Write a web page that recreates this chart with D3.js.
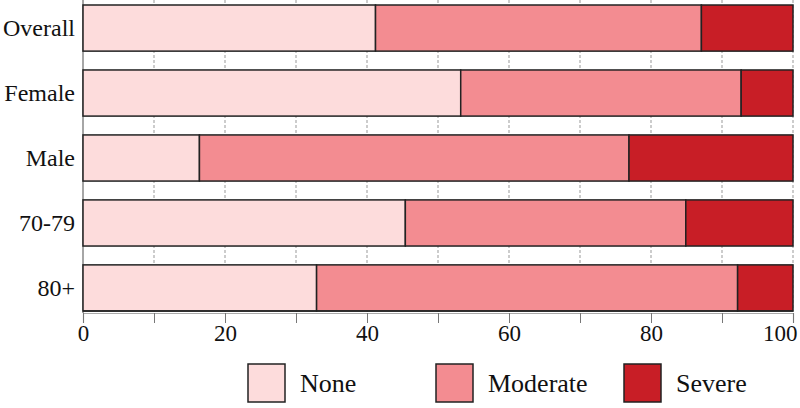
<!DOCTYPE html>
<html><head><meta charset="utf-8">
<script src="https://cdn.jsdelivr.net/npm/d3@7"></script>
<style>body{margin:0;background:#fff}svg{display:block}text{font-family:"Liberation Serif","Times New Roman",serif;fill:#111}</style>
</head><body><svg id="c" width="800" height="408"></svg>
<script>
const categories = ["Overall", "Female", "Male", "70-79", "80+"];
const seriesNames = ["None", "Moderate", "Severe"];
const noneVals = [41.2, 53.2, 16.4, 45.4, 32.9];
const moderateVals = [45.9, 39.5, 60.5, 39.5, 59.3];
const severeVals = [12.9, 7.3, 23.1, 15.1, 7.8];
const tickLabels = [0, 20, 40, 60, 80, 100];
const colors = ["#fddcdc", "#f38c91", "#c81e26"];

const svg = d3.select("#c");
const x = d3.scaleLinear().domain([0, 100]).range([83, 793]);
const y = d3.scaleBand().domain(categories).range([5, 311]).paddingInner(0.29).paddingOuter(0);

const rows = categories.map((c, i) => ({cat: c, None: noneVals[i], Moderate: moderateVals[i], Severe: severeVals[i]}));
const stacked = d3.stack().keys(seriesNames)(rows);

// gridlines
svg.append("g").selectAll("line").data(d3.range(10, 101, 10)).join("line")
  .attr("x1", d => x(d)).attr("x2", d => x(d)).attr("y1", 0).attr("y2", 312)
  .attr("stroke", "#999").attr("stroke-width", 1).attr("stroke-dasharray", "3,2");

// left axis line
svg.append("line").attr("x1", x(0)).attr("x2", x(0)).attr("y1", 0).attr("y2", 313)
  .attr("stroke", "#888").attr("stroke-width", 1.5);

// bars
stacked.forEach((s, si) => {
  svg.append("g").selectAll("rect").data(s).join("rect")
    .attr("x", d => x(d[0])).attr("width", d => x(d[1]) - x(d[0]))
    .attr("y", d => y(d.data.cat)).attr("height", y.bandwidth())
    .attr("fill", colors[si]).attr("stroke", "#222").attr("stroke-width", 1.5);
});

// x axis
const xAxis = d3.axisBottom(x).tickValues(d3.range(0, 101, 10))
  .tickFormat(d => tickLabels.includes(d) ? d : "").tickSize(10).tickPadding(2);
const gx = svg.append("g").attr("transform", "translate(0,313)").call(xAxis);
gx.select(".domain").attr("stroke", "#aaa").attr("stroke-width", 1.2);
gx.selectAll(".tick line").attr("stroke", "#777");
gx.selectAll(".tick text").attr("font-size", 23).attr("font-family", "Liberation Serif").attr("fill", "#111");
gx.selectAll(".tick text").filter(d => d === 100).attr("text-anchor", "end").attr("dx", 4);
svg.append("line").attr("x1", x(0)).attr("x2", x(100)).attr("y1", 311).attr("y2", 311).attr("stroke", "#222").attr("stroke-width", 1.5);

// y labels
svg.append("g").selectAll("text").data(categories).join("text")
  .attr("x", 75).attr("y", d => y(d) + y.bandwidth() / 2)
  .attr("text-anchor", "end").attr("dominant-baseline", "central")
  .attr("font-size", 24).text(d => d);

// legend
const legX = d3.scalePoint().domain(seriesNames).range([248, 624]);
const lg = svg.append("g").selectAll("g").data(seriesNames).join("g")
  .attr("transform", d => `translate(${legX(d)},364)`);
lg.append("rect").attr("width", 37).attr("height", 38)
  .attr("fill", (d, i) => colors[i]).attr("stroke", "#222").attr("stroke-width", 1.5);
lg.append("text").attr("x", 52).attr("y", 19).attr("dominant-baseline", "central")
  .attr("font-size", 26).text(d => d);
</script></body></html>
